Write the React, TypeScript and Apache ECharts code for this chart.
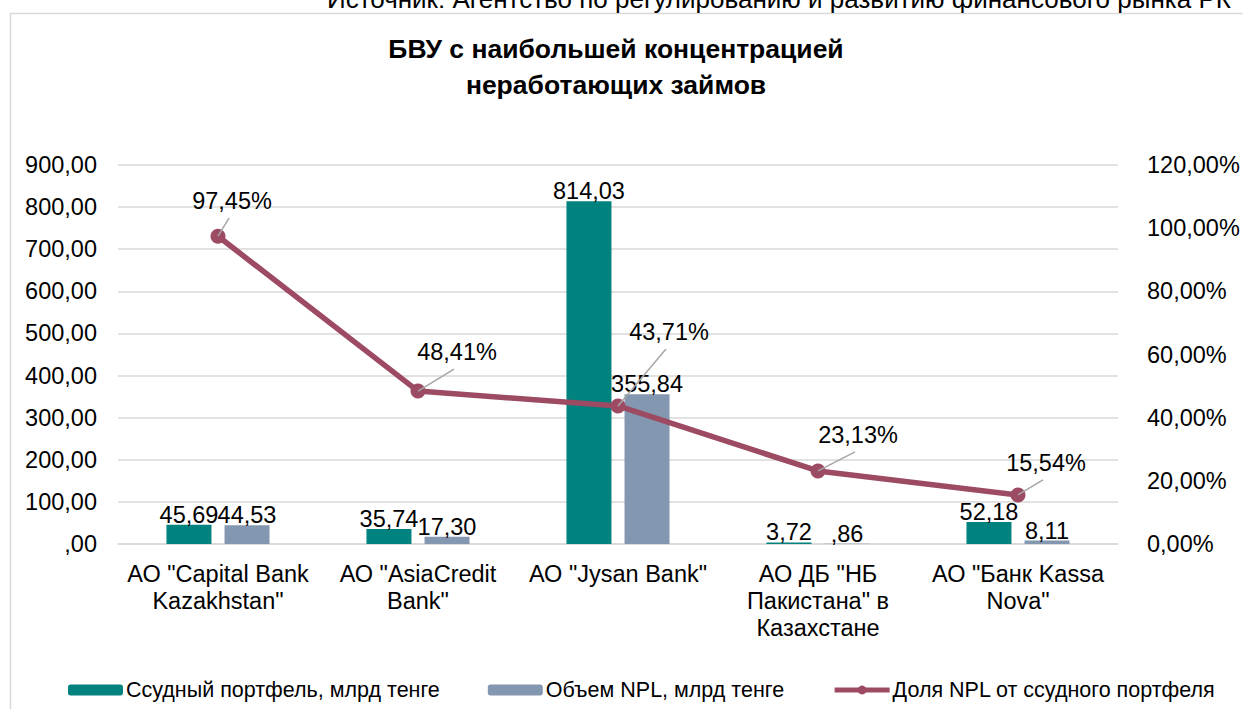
import React, { useEffect, useRef } from "react";
import * as echarts from "echarts";

const categories = [
  'АО "Capital Bank\nKazakhstan"',
  'АО "AsiaCredit\nBank"',
  'АО "Jysan Bank"',
  'АО ДБ "НБ\nПакистана" в\nКазахстане',
  'АО "Банк Kassa\nNova"',
];
const loanPortfolio = [45.69, 35.74, 814.03, 3.72, 52.18];
const nplVolume = [44.53, 17.3, 355.84, 0.86, 8.11];
const nplShare = [97.45, 48.41, 43.71, 23.13, 15.54];
const seriesNames = [
  "Ссудный портфель, млрд тенге",
  "Объем NPL, млрд тенге",
  "Доля NPL от ссудного портфеля",
];
const titleText = "БВУ с наибольшей концентрацией\nнеработающих займов";
const sourceText = "Источник: Агентство по регулированию и развитию финансового рынка РК";
// label offsets (px) of the share labels relative to their points
const shareLabelOffsets = [
  [14, -35],
  [39, -39],
  [51, -74],
  [40, -36],
  [28, -32],
];

const FONT = '"Liberation Sans", Arial, sans-serif';
const TEAL = "#00827F";
const BLUEGREY = "#8497B0";
const WINE = "#9C4B63";
const GRID = "#d9d9d9";
const FS = 23.5;

const fmtNum = (v: number) => {
  let s = v.toFixed(2).replace(".", ",");
  if (s.startsWith("0,")) s = s.slice(1);
  return s;
};
const fmtPct = (v: number) => v.toFixed(2).replace(".", ",") + "%";

export default function App() {
  const ref = useRef<HTMLDivElement>(null);
  useEffect(() => {
    if (!ref.current) return;
    const chart = echarts.init(ref.current, null, { renderer: "svg" });
    chart.setOption({
      animation: false,
      backgroundColor: "#ffffff",
      textStyle: { fontFamily: FONT, color: "#000" },
      graphic: [
        {
          type: "rect",
          left: 8,
          top: 11,
          shape: { x: 0, y: 0, width: 1300, height: 800 },
          style: { fill: "none", stroke: GRID, lineWidth: 1.5 },
          silent: true,
          z: -10,
        },
        {
          type: "text",
          x: 327,
          y: -1,
          style: {
            text: sourceText,
            font: `26px ${FONT}`,
            fill: "#000",
            verticalAlign: "middle",
            align: "left",
          },
        },
      ],
      title: {
        text: titleText,
        left: 611,
        textAlign: "center",
        top: 26,
        textStyle: {
          fontFamily: FONT,
          fontSize: 26.5,
          fontWeight: "bold",
          color: "#000",
          lineHeight: 36,
        },
      },
      legend: {
        data: [
          { name: seriesNames[0] },
          { name: seriesNames[1] },
          { name: seriesNames[2], lineStyle: { width: 5 }, itemStyle: { color: WINE } },
        ],
        left: 63,
        top: 674,
        itemWidth: 55,
        itemHeight: 11,
        itemGap: 48,
        textStyle: { fontFamily: FONT, fontSize: 21.5, color: "#000", padding: [0, 0, 0, -2] },
      },
      grid: { left: 118, right: 125, top: 165, bottom: 165, containLabel: false },
      xAxis: {
        type: "category",
        data: categories,
        axisTick: { show: false },
        axisLine: { lineStyle: { color: GRID, width: 1.5 } },
        axisLabel: {
          fontFamily: FONT,
          fontSize: FS,
          color: "#000",
          lineHeight: 27,
          margin: 16,
          interval: 0,
        },
      },
      yAxis: [
        {
          type: "value",
          min: 0,
          max: 900,
          interval: 100,
          axisLine: { show: false },
          axisTick: { show: false },
          splitLine: { lineStyle: { color: GRID, width: 1.5 } },
          axisLabel: {
            fontFamily: FONT,
            fontSize: FS,
            color: "#000",
            margin: 21,
            formatter: (v: number) => fmtNum(v),
          },
        },
        {
          type: "value",
          min: 0,
          max: 120,
          interval: 20,
          axisLine: { show: false },
          axisTick: { show: false },
          splitLine: { show: false },
          axisLabel: {
            fontFamily: FONT,
            fontSize: FS,
            color: "#000",
            margin: 29,
            formatter: (v: number) => fmtPct(v),
          },
        },
      ],
      series: [
        {
          name: seriesNames[0],
          type: "bar",
          data: loanPortfolio,
          barWidth: 45,
          barGap: "29%",
          itemStyle: { color: TEAL },
          label: {
            show: true,
            position: "top",
            distance: -2,
            fontFamily: FONT,
            fontSize: FS,
            color: "#000",
            formatter: (p: any) => fmtNum(p.value),
          },
        },
        {
          name: seriesNames[1],
          type: "bar",
          data: nplVolume,
          barWidth: 45,
          itemStyle: { color: BLUEGREY },
          label: {
            show: true,
            position: "top",
            distance: -2,
            fontFamily: FONT,
            fontSize: FS,
            color: "#000",
            formatter: (p: any) => fmtNum(p.value),
          },
        },
        {
          name: seriesNames[2],
          type: "line",
          yAxisIndex: 1,
          data: nplShare,
          symbol: "circle",
          symbolSize: 15,
          lineStyle: { color: WINE, width: 5.5 },
          itemStyle: { color: WINE },
          z: 3,
        },
        {
          type: "custom",
          yAxisIndex: 1,
          data: nplShare.map((v, i) => [i, v]),
          z: 4,
          silent: true,
          renderItem: (params: any, api: any) => {
            const pt = api.coord([api.value(0), api.value(1)]);
            const off = shareLabelOffsets[params.dataIndex];
            const cx = pt[0] + off[0];
            const cy = pt[1] + off[1];
            return {
              type: "group",
              children: [
                {
                  type: "line",
                  shape: { x1: pt[0], y1: pt[1], x2: cx - 3, y2: cy + 17 },
                  style: { stroke: "#a6a6a6", lineWidth: 1.5 },
                },
                {
                  type: "text",
                  x: cx,
                  y: cy,
                  style: {
                    text: fmtPct(api.value(1)),
                    font: `${FS}px ${FONT}`,
                    fill: "#000",
                    align: "center",
                    verticalAlign: "middle",
                  },
                },
              ],
            };
          },
        },
      ],
    });
    return () => chart.dispose();
  }, []);
  return (
    <div
      ref={ref}
      style={{ position: "absolute", left: 0, top: 0, width: 1243, height: 709 }}
    />
  );
}
